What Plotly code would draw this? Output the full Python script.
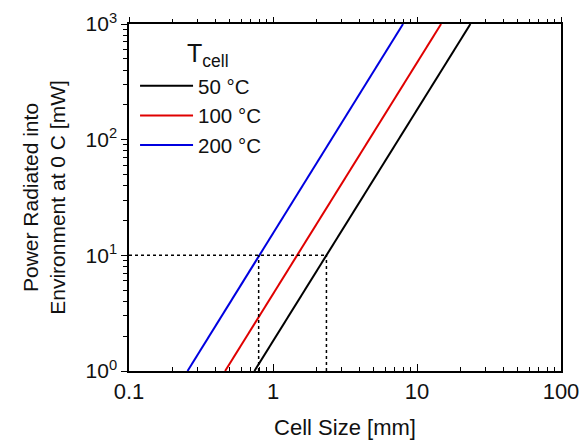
import math
import plotly.graph_objects as go

# Data
temps = ["50 °C", "100 °C", "200 °C"]
colors = ["#000000", "#e00000", "#0000e0"]
power_mw = [1, 1000]                       # power endpoints [mW]
size_50 = [0.743, 23.5]                    # cell size [mm] at those powers
size_100 = [0.465, 14.7]
size_200 = [0.255, 8.0]
sizes = [size_50, size_100, size_200]

# reference guide (10 mW)
guide_power = 10
guide_sizes = [0.795, 2.35]
x_range = [0.1, 100]
y_range = [1, 1000]
y_ticks = [1, 10, 100, 1000]
y_ticktext = ["10<sup>0</sup>", "10<sup>1</sup>", "10<sup>2</sup>", "10<sup>3</sup>"]
x_ticks = [0.1, 1, 10, 100]
x_ticktext = ["0.1", "1", "10", "100"]
legend_title = "T<sub>cell</sub>"

x_minor = [d * 10.0 ** e for e in range(-1, 2) for d in range(2, 10)]
y_minor = [d * 10.0 ** e for e in range(0, 3) for d in range(2, 10)]

fig = go.Figure()
for name, col, s in zip(temps, colors, sizes):
    fig.add_trace(go.Scatter(x=s, y=power_mw, mode="lines", name=name,
                             line=dict(color=col, width=2)))

dot = dict(color="black", width=1.5, dash="dot")
fig.add_trace(go.Scatter(x=[x_range[0], max(guide_sizes)], y=[guide_power, guide_power],
                         xaxis="x2", mode="lines", line=dot, showlegend=False,
                         hoverinfo="skip"))
for gs in guide_sizes:
    fig.add_trace(go.Scatter(x=[gs, gs], y=[y_range[0], guide_power],
                             mode="lines", line=dot, showlegend=False, hoverinfo="skip"))

font = "Liberation Sans, Arial, sans-serif"
xr = [math.log10(x_range[0]), math.log10(x_range[1])]
fig.update_layout(
    width=581, height=440,
    margin=dict(l=129, r=20, t=24, b=69),
    paper_bgcolor="white", plot_bgcolor="white",
    font=dict(family=font, size=20, color="#111111"),
    showlegend=True,
    legend=dict(x=0.014, y=0.879, xanchor="left", yanchor="top",
                bgcolor="rgba(0,0,0,0)", itemwidth=53,
                font=dict(size=20.5)),
    annotations=[dict(text=legend_title, xref="paper", yref="paper",
                      x=0.183, y=0.912, xanchor="center", yanchor="middle",
                      showarrow=False, font=dict(size=25, color="#111111"))],
    xaxis=dict(type="log", range=xr, automargin=False,
               tickvals=x_ticks, ticktext=x_ticktext,
               ticks="inside", ticklen=7, tickwidth=1.3, tickcolor="black",
               minor=dict(tickvals=x_minor, ticks="inside", ticklen=4,
                          tickcolor="black", showgrid=False),
               showline=True, linecolor="black", linewidth=1.5, mirror=True,
               showgrid=False, zeroline=False,
               tickfont=dict(size=22),
               title=dict(text="Cell Size [mm]", font=dict(size=22), standoff=18)),
    yaxis=dict(type="log", range=[math.log10(y_range[0]), math.log10(y_range[1])],
               automargin=False,
               tickvals=y_ticks, ticktext=y_ticktext,
               ticks="outside", ticklen=6, tickwidth=1.3, tickcolor="black",
               minor=dict(tickvals=y_minor, ticks="outside", ticklen=4,
                          tickcolor="black", showgrid=False),
               showline=True, linecolor="black", linewidth=1.5, mirror=True,
               showgrid=False, zeroline=False,
               tickfont=dict(size=21),
               title=dict(text="Power Radiated into<br>Environment at 0 C [mW]",
                          font=dict(size=21), standoff=14)),
    xaxis2=dict(type="log", range=xr, automargin=False,
                overlaying="x", side="top", anchor="y", matches="x",
                tickvals=x_ticks, showticklabels=False,
                ticks="outside", ticklen=6, tickwidth=1.3, tickcolor="black",
                minor=dict(tickvals=x_minor, ticks="outside", ticklen=4,
                           tickcolor="black", showgrid=False),
                showgrid=False, zeroline=False, showline=False),
)

fig.write_html("out.html")
